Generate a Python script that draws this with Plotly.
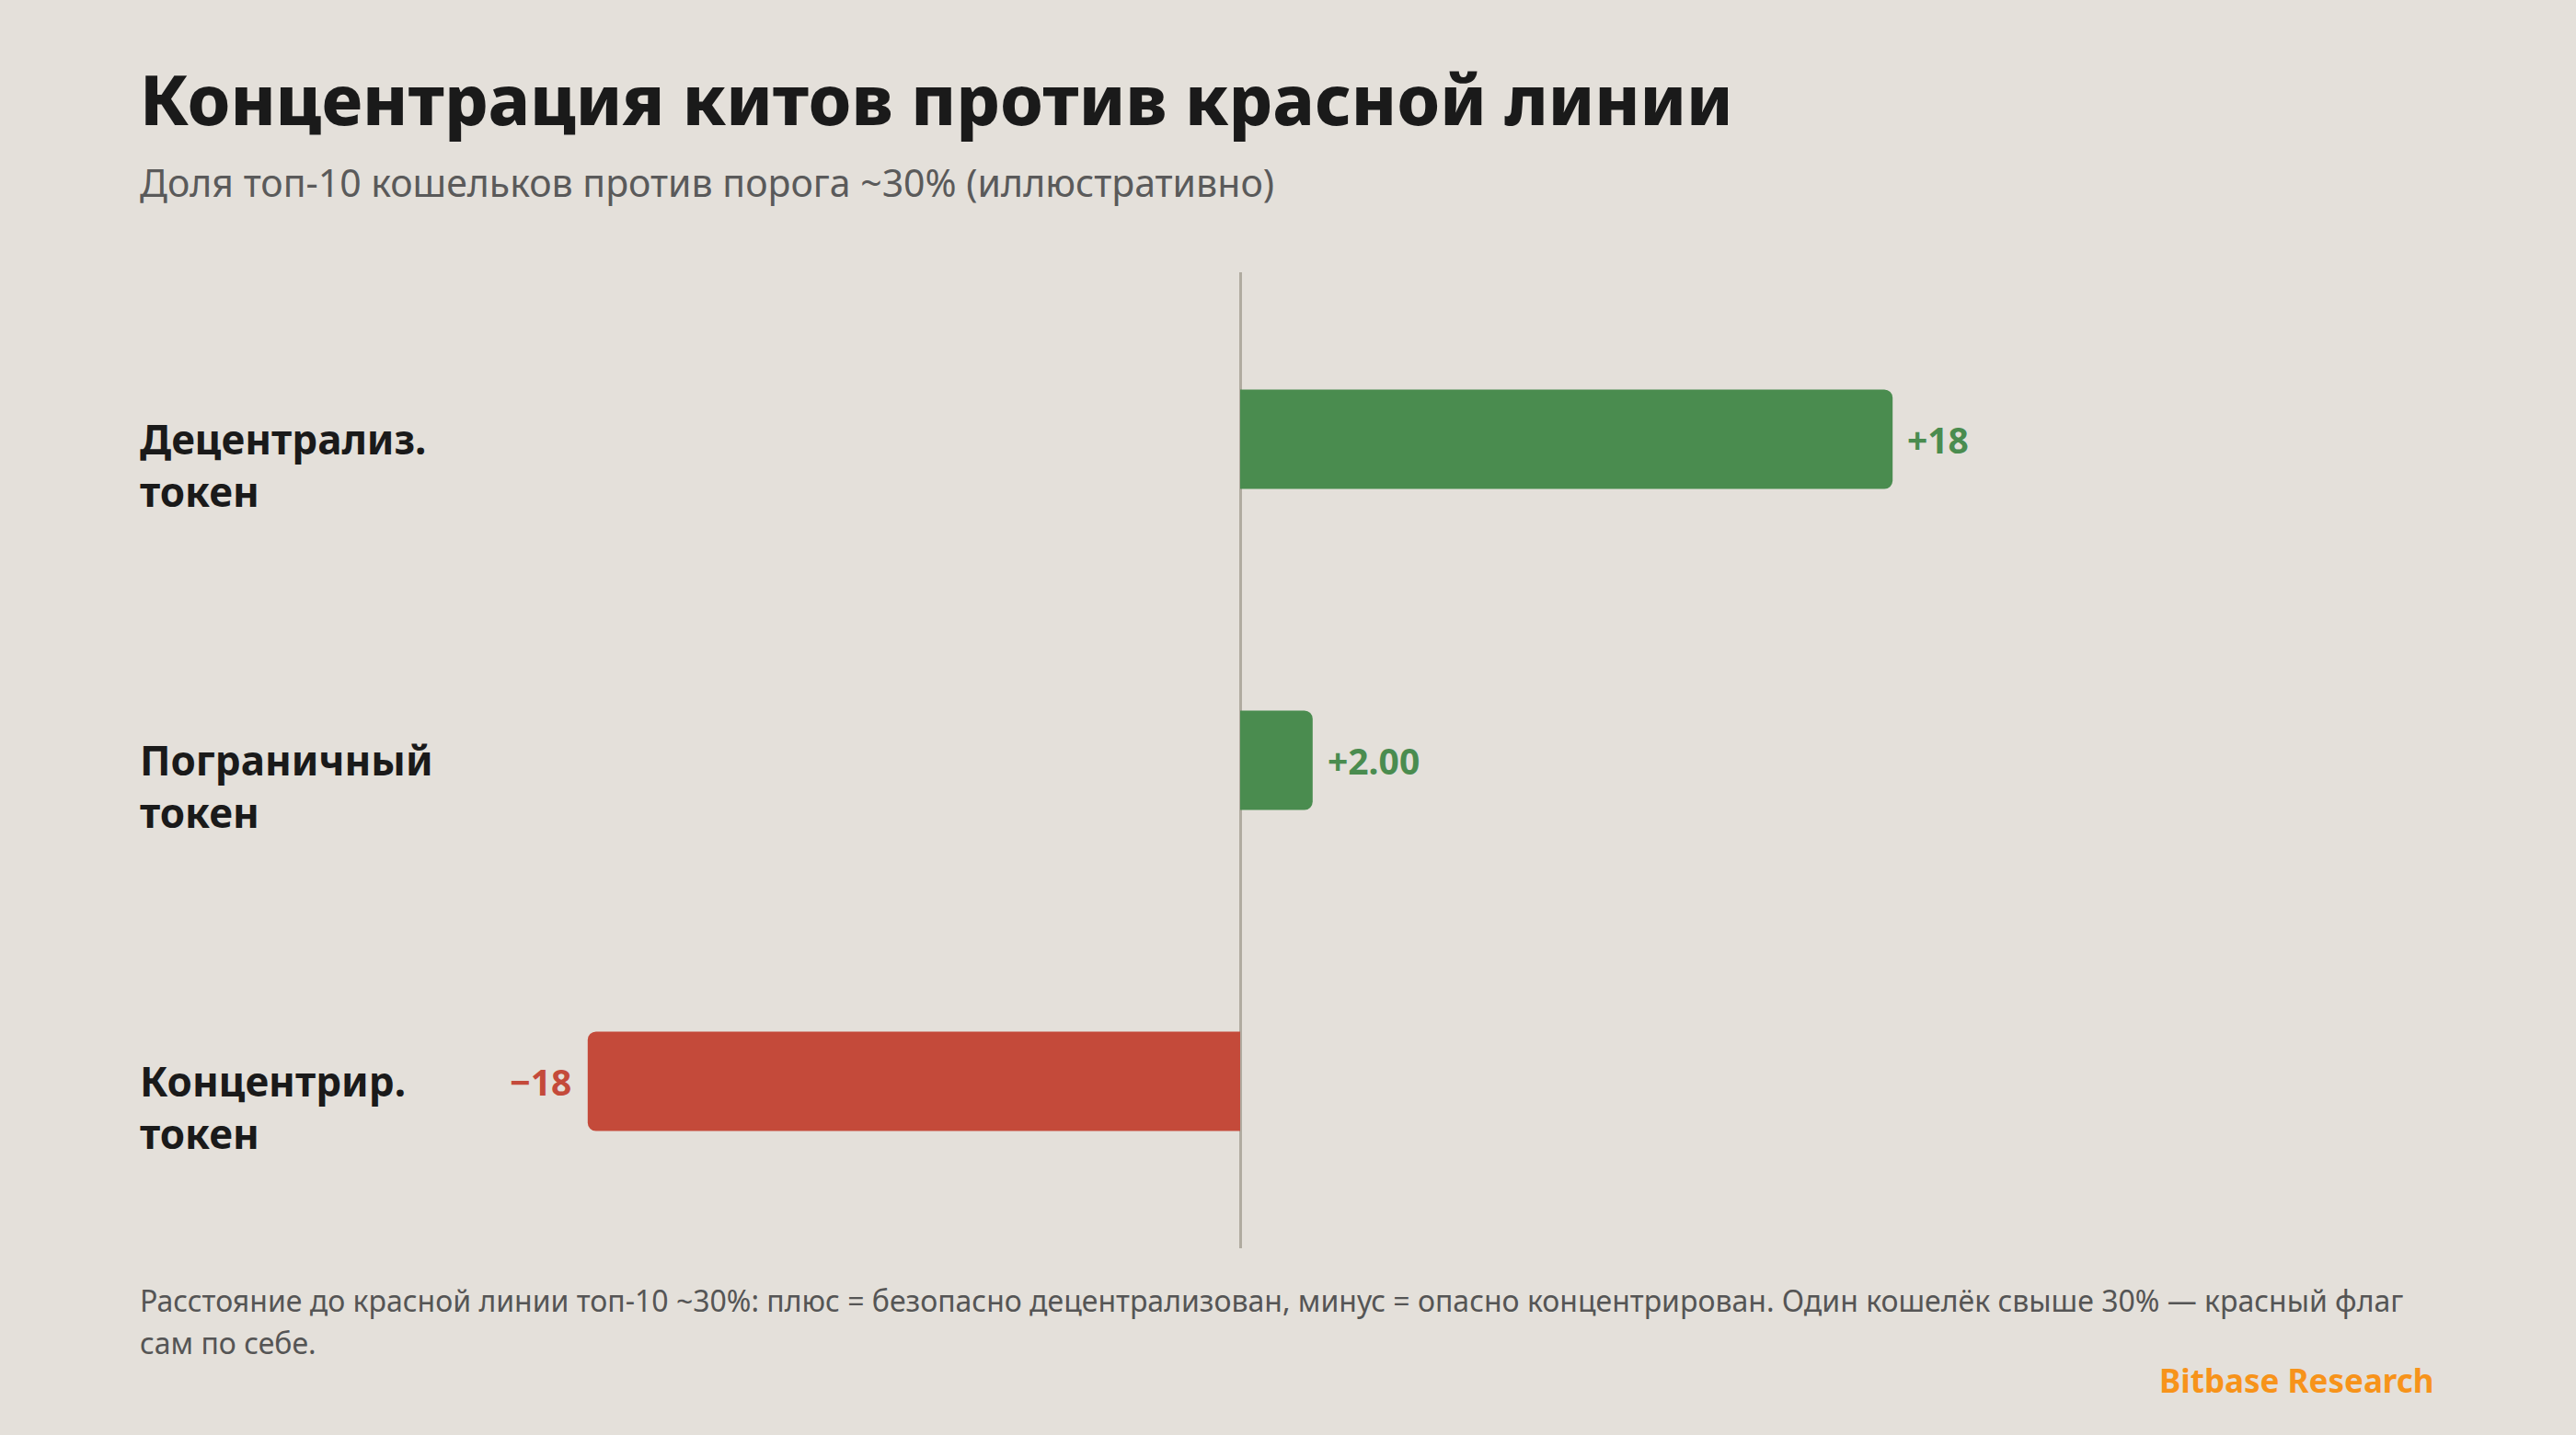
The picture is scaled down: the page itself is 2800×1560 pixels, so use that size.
import plotly.graph_objects as go

categories = ["Децентрализ.<br>токен", "Пограничный<br>токен", "Концентрир.<br>токен"]
values = [18, 2, -18]
value_labels = ["+18", "+2.00", "−18"]
bar_colors = ["#4A8C4F", "#4A8C4F", "#C44A3A"]

title = "Концентрация китов против красной линии"
subtitle = "Доля топ-10 кошельков против порога ~30% (иллюстративно)"
footnote_lines = [
    "Расстояние до красной линии топ-10 ~30%: плюс = безопасно децентрализован, минус = опасно "
    "концентрирован. Один кошелёк свыше 30% — красный флаг",
    "сам по себе.",
]
brand = "Bitbase Research"

W, H = 2800, 1560
ML, MR, MT, MB = 500, 150, 296, 203
PW = W - ML - MR
X0_PX = 1348
PX_PER_UNIT = 39.4
xmin = -(X0_PX - ML) / PX_PER_UNIT
xmax = (W - MR - X0_PX) / PX_PER_UNIT

BG = "#E4E0DA"
FONT = "Noto Sans"

fig = go.Figure()
fig.add_trace(go.Bar(
    x=values, y=list(range(len(categories))), orientation="h",
    marker=dict(color=bar_colors, line=dict(width=0), cornerradius=9),
    width=0.31,
    cliponaxis=False,
    hoverinfo="skip",
))

fig.update_layout(
    width=W, height=H,
    paper_bgcolor=BG, plot_bgcolor=BG,
    margin=dict(l=ML, r=MR, t=MT, b=MB),
    showlegend=False,
    xaxis=dict(range=[xmin, xmax], showgrid=False, showticklabels=False, ticks="",
               zeroline=True, zerolinecolor="#B0ABA0", zerolinewidth=3, showline=False),
    yaxis=dict(range=[2.52, -0.52], showgrid=False, showticklabels=False, ticks="",
               zeroline=False, showline=False),
    font=dict(family=FONT),
)

LX = -(ML - 150) / PW
annotations = []
annotations.append(dict(text=title, xref="paper", yref="paper", x=LX, y=1,
                        xanchor="left", yanchor="middle", yshift=(MT - 107), showarrow=False,
                        font=dict(family=FONT, size=75, color="#1A1A1A", weight=800)))
annotations.append(dict(text=subtitle, xref="paper", yref="paper", x=LX, y=1,
                        xanchor="left", yanchor="middle", yshift=(MT - 198), showarrow=False,
                        font=dict(family=FONT, size=41, color="#5A5A5A")))
for i, c in enumerate(categories):
    annotations.append(dict(text=c, xref="paper", yref="y", x=LX, y=i,
                            xanchor="left", yanchor="middle", yshift=-28, showarrow=False, align="left",
                            font=dict(family=FONT, size=44, color="#1A1A1A", weight=700)))
for i, (v, t, col) in enumerate(zip(values, value_labels, bar_colors)):
    annotations.append(dict(text=t, xref="x", yref="y", x=v, y=i,
                            xanchor="left" if v >= 0 else "right", yanchor="middle",
                            xshift=14 if v >= 0 else -16, showarrow=False,
                            font=dict(family=FONT, size=39, color=col, weight=700)))
for j, line in enumerate(footnote_lines):
    annotations.append(dict(text=line, xref="paper", yref="paper", x=LX, y=0,
                            xanchor="left", yanchor="middle", yshift=-((1413 + 46 * j) - (H - MB)),
                            showarrow=False, align="left",
                            font=dict(family=FONT, size=32, color="#555555")))
annotations.append(dict(text=brand, xref="paper", yref="paper", x=(2648 - ML) / PW, y=0,
                        xanchor="right", yanchor="middle", yshift=-(1500 - (H - MB)), showarrow=False,
                        font=dict(family=FONT, size=35, color="#F7931A", weight=700)))
fig.update_layout(annotations=annotations)

fig.write_html("out.html")
